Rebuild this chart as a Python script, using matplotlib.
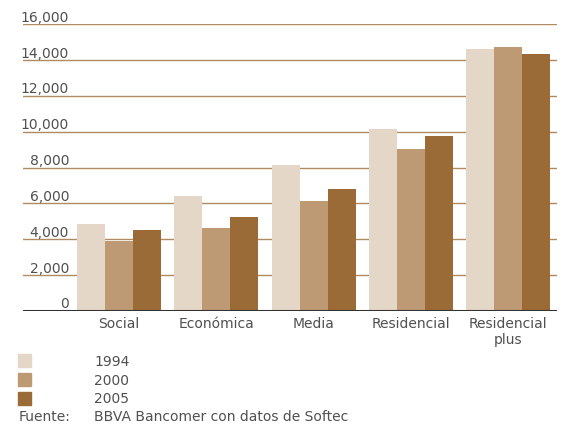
import matplotlib
matplotlib.use("Agg")
import matplotlib.pyplot as plt
from matplotlib.patches import Rectangle
from matplotlib.transforms import blended_transform_factory, offset_copy
import numpy as np

categories = ["Social", "Económica", "Media", "Residencial", "Residencial\nplus"]
years = ["1994", "2000", "2005"]
values_1994 = [4850, 6420, 8150, 10150, 14620]
values_2000 = [3920, 4630, 6140, 9040, 14730]
values_2005 = [4520, 5240, 6810, 9760, 14340]
yticks = [0, 2000, 4000, 6000, 8000, 10000, 12000, 14000, 16000]
source = "BBVA Bancomer con datos de Softec"

colors = ["#e4d7c7", "#be9a74", "#9a6b37"]
text_color = "#505050"
grid_color = "#b08a60"

W, H = 561, 425
fig = plt.figure(figsize=(W / 100, H / 100), dpi=100)
ax = fig.add_axes([23 / W, (H - 311) / H, (556.7 - 23) / W, (311 - 24.3) / H])

x = np.arange(len(categories))
width = 0.288
series = [values_1994, values_2000, values_2005]
for i, vals in enumerate(series):
    ax.bar(x + (i - 1) * width, vals, width, color=colors[i], zorder=3,
           linewidth=0)

ax.set_xlim(-0.987, 4.5)
ax.set_ylim(0, 16000)

# horizontal rules with the value written above each one
for v in yticks[1:]:
    ax.axhline(v, color=grid_color, lw=1, zorder=1)
ax.axhline(0, color="#333333", lw=1.5, zorder=4)

trans = blended_transform_factory(ax.transAxes, ax.transData)
trans = offset_copy(trans, fig=fig, y=2.5, units="dots")
for v in yticks:
    ax.text(0.0862, v, f"{v:,}", transform=trans, ha="right", va="baseline",
            fontsize=10, color=text_color)

for s in ax.spines.values():
    s.set_visible(False)
ax.set_yticks([])
ax.set_xticks(x, categories)
ax.tick_params(axis="x", length=0, pad=4, labelsize=10, labelcolor=text_color)
for lbl in ax.get_xticklabels():
    lbl.set_linespacing(1.25)

# legend squares and source line
for i, yr in enumerate(years):
    cy = [360.8, 379.7, 398.3][i]
    fig.patches.append(Rectangle((18.3 / W, (H - cy - 6.5) / H), 13 / W, 13 / H,
                                 transform=fig.transFigure, color=colors[i]))
    fig.text(94.3 / W, (H - [361.7, 380.7, 399.3][i]) / H, yr, ha="left",
             va="center", fontsize=10, color=text_color)
fig.text(19 / W, (H - 417.3) / H, "Fuente:", ha="left", va="center",
         fontsize=10, color=text_color)
fig.text(94.3 / W, (H - 417.3) / H, source, ha="left", va="center",
         fontsize=10, color=text_color)

fig.savefig("out.png", dpi=100)
